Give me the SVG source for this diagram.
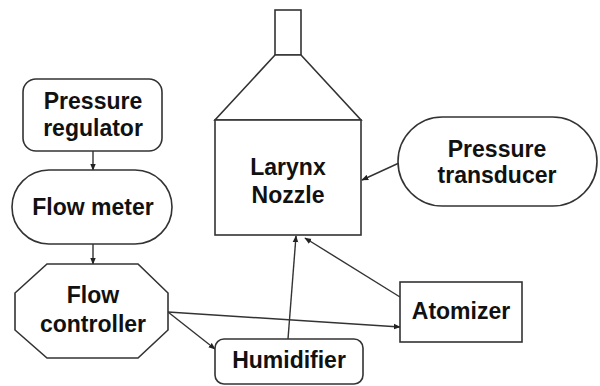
<svg xmlns="http://www.w3.org/2000/svg" width="600" height="386" viewBox="0 0 600 386">
<style>
.s{fill:#fff;stroke:#333;stroke-width:1.6}
.t{font-family:"Liberation Sans",Arial,sans-serif;font-weight:bold;font-size:23px;fill:#111;text-anchor:middle}
.c{fill:none;stroke:#333;stroke-width:1.4}
</style>
<defs>
<marker id="ah" viewBox="0 0 10 10" refX="9" refY="5" markerWidth="7" markerHeight="7" orient="auto" markerUnits="userSpaceOnUse">
<path d="M0,1 L10,5 L0,9 z" fill="#222"/>
</marker>
</defs>
<rect width="600" height="386" fill="#fff"/>
<g id="connectors">
<line class="c" x1="93" y1="151" x2="93" y2="170" marker-end="url(#ah)"/>
<line class="c" x1="93" y1="244" x2="93" y2="264" marker-end="url(#ah)"/>
<line class="c" x1="168" y1="312" x2="400" y2="327" marker-end="url(#ah)"/>
<line class="c" x1="168" y1="312" x2="215" y2="349" marker-end="url(#ah)"/>
<line class="c" x1="288" y1="339" x2="296" y2="236" marker-end="url(#ah)"/>
<line class="c" x1="400" y1="297" x2="305" y2="238" marker-end="url(#ah)"/>
<line class="c" x1="399" y1="163" x2="362" y2="180" marker-end="url(#ah)"/>
</g>
<g id="pressure-regulator">
<rect class="s" x="23" y="79" width="139" height="72" rx="13"/>
<text class="t" x="93" y="109">Pressure</text>
<text class="t" x="93" y="136">regulator</text>
</g>
<g id="flow-meter">
<rect class="s" x="12" y="170" width="160" height="74" rx="37"/>
<text class="t" x="93" y="215">Flow meter</text>
</g>
<g id="flow-controller">
<polygon class="s" points="47,264 138,264 168,293 168,330 138,358 47,358 15,330 15,293"/>
<text class="t" x="93" y="303">Flow</text>
<text class="t" x="93" y="332">controller</text>
</g>
<g id="larynx-nozzle">
<rect class="s" x="275" y="10" width="26" height="45"/>
<polygon class="s" points="275,55 301,55 361,120 215,120"/>
<rect class="s" x="215" y="120" width="146" height="115"/>
<text class="t" x="288" y="175">Larynx</text>
<text class="t" x="288" y="203">Nozzle</text>
</g>
<g id="pressure-transducer">
<rect class="s" x="398" y="117" width="199" height="89" rx="44.5"/>
<text class="t" x="497" y="157">Pressure</text>
<text class="t" x="497" y="183">transducer</text>
</g>
<g id="atomizer">
<rect class="s" x="400" y="282" width="122" height="60"/>
<text class="t" x="461" y="319">Atomizer</text>
</g>
<g id="humidifier">
<rect class="s" x="215" y="339" width="148" height="45" rx="9"/>
<text class="t" x="289" y="368">Humidifier</text>
</g>
</svg>
